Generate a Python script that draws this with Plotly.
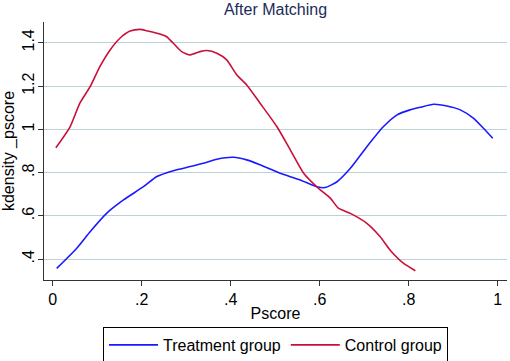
import plotly.graph_objects as go

# Treatment group kernel density
treat_x = [0.009, 0.054, 0.084, 0.121, 0.159, 0.204, 0.234, 0.271, 0.309, 0.339, 0.369, 0.406,
           0.436, 0.466, 0.511, 0.556, 0.594, 0.612, 0.639, 0.669, 0.706, 0.743, 0.774, 0.803,
           0.826, 0.856, 0.886, 0.916, 0.946, 0.968, 0.989]
treat_y = [0.358, 0.451, 0.527, 0.612, 0.674, 0.735, 0.782, 0.809, 0.828, 0.843, 0.862, 0.871,
           0.859, 0.836, 0.797, 0.766, 0.735, 0.731, 0.758, 0.820, 0.920, 1.012, 1.067, 1.090,
           1.102, 1.116, 1.108, 1.090, 1.051, 1.005, 0.959]

# Control group kernel density
ctrl_x = [0.007, 0.039, 0.061, 0.084, 0.106, 0.129, 0.151, 0.174, 0.196, 0.211, 0.234, 0.256,
          0.271, 0.290, 0.309, 0.331, 0.346, 0.369, 0.391, 0.414, 0.436, 0.466, 0.504, 0.534,
          0.564, 0.597, 0.624, 0.642, 0.669, 0.706, 0.736, 0.758, 0.788, 0.815]
ctrl_y = [0.915, 1.012, 1.121, 1.197, 1.290, 1.367, 1.421, 1.454, 1.462, 1.456, 1.444, 1.428,
          1.398, 1.359, 1.344, 1.359, 1.364, 1.352, 1.321, 1.251, 1.205, 1.121, 1.012, 0.905,
          0.797, 0.728, 0.682, 0.636, 0.612, 0.566, 0.504, 0.443, 0.382, 0.347]

x_ticks = [0, 0.2, 0.4, 0.6, 0.8, 1]
x_tick_labels = ["0", ".2", ".4", ".6", ".8", "1"]
y_ticks = [0.4, 0.6, 0.8, 1.0, 1.2, 1.4]
y_tick_labels = [".4", ".6", ".8", "1", "1.2", "1.4"]

FONT = "Liberation Sans, Arial, sans-serif"

fig = go.Figure()
fig.add_trace(go.Scatter(x=treat_x, y=treat_y, mode="lines", name="Treatment group",
                         line=dict(color="#1a1aff", width=1.6, shape="spline", smoothing=0.6)))
fig.add_trace(go.Scatter(x=ctrl_x, y=ctrl_y, mode="lines", name="Control group",
                         line=dict(color="#c8103a", width=1.6, shape="spline", smoothing=0.6)))

fig.update_layout(
    width=510, height=361,
    margin=dict(l=44, r=3, t=22, b=81, autoexpand=False),
    paper_bgcolor="white", plot_bgcolor="white",
    font=dict(family=FONT, size=16, color="black"),
    title=dict(text="After Matching", x=0.5, xref="paper", xanchor="center",
               y=0.973, yref="container", yanchor="middle",
               font=dict(family=FONT, size=16, color="#1c2b5a")),
    showlegend=True,
    legend=dict(orientation="h", x=0.5, xanchor="center", y=-0.182, yanchor="top",
                bordercolor="black", borderwidth=1, font=dict(size=16),
                itemwidth=49),
)
fig.update_xaxes(range=[-0.0196, 1.021], tickvals=x_ticks, ticktext=x_tick_labels,
                 automargin=False,
                 showline=True, linecolor="#333333", linewidth=1.2,
                 ticks="outside", ticklen=5, tickcolor="#333333",
                 showgrid=False, zeroline=False,
                 title=dict(text="Pscore", standoff=0, font=dict(size=16)))
fig.update_yaxes(range=[0.304, 1.496], tickvals=y_ticks, ticktext=y_tick_labels,
                 tickangle=-90, automargin=False, ticklabelstandoff=-2,
                 showline=True, linecolor="#333333", linewidth=1.2,
                 ticks="outside", ticklen=5, tickcolor="#333333",
                 showgrid=True, gridcolor="#bfd1d8", gridwidth=1, zeroline=False,
                 title=dict(text="kdensity _pscore", standoff=4, font=dict(size=16)))

fig.write_html("out.html",
               config={"displayModeBar": False},
               post_script="document.body.style.margin='0';document.body.style.overflow='hidden';")
